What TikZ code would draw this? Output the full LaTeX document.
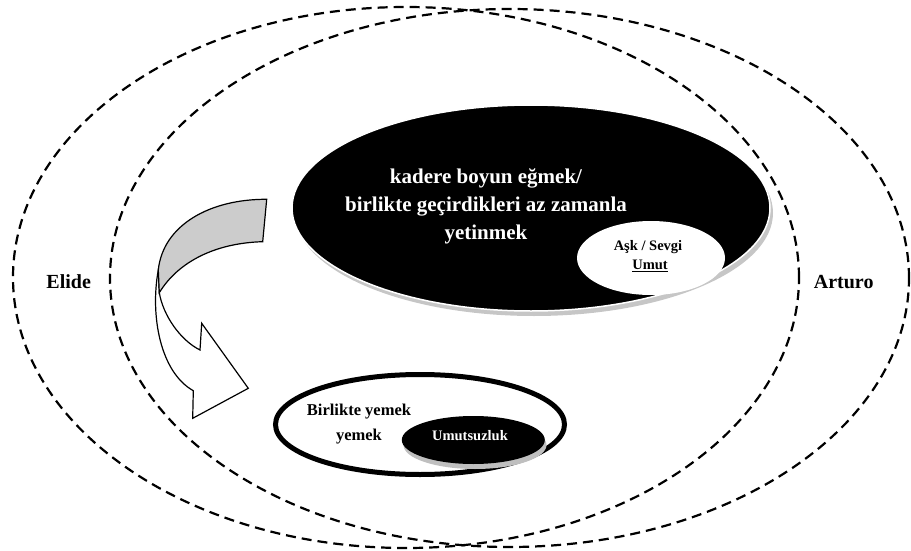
\documentclass[tikz,border=0pt]{standalone}
\usepackage{fontspec}
\setmainfont{Liberation Serif}
\usetikzlibrary{shapes.geometric}
\begin{document}
\begin{tikzpicture}[x=1pt,y=-1pt,
  dashell/.style={ellipse, draw=black, dash pattern=on 10pt off 6pt, line width=2.2pt, inner sep=0pt, outer sep=0pt},
  plainell/.style={ellipse, inner sep=0pt, outer sep=0pt},
  bigtxt/.style={anchor=base, inner sep=0pt, text=white, font=\fontsize{21}{25}\selectfont\bfseries},
  nametxt/.style={anchor=base, inner sep=0pt, font=\fontsize{20}{24}\selectfont\bfseries},
  midtxt/.style={anchor=base, inner sep=0pt, font=\fontsize{16.5}{20}\selectfont\bfseries},
  smalltxt/.style={anchor=base, inner sep=0pt, font=\fontsize{14.5}{17}\selectfont\bfseries},
  arrowline/.style={draw=black, line width=1.2pt, line join=miter}
]
\useasboundingbox (0,0) rectangle (911,551);

% black ellipse with shadow
\node[plainell, fill=gray!45, minimum width=478pt, minimum height=206pt] (bigshadow) at (534,213) {};
\node[plainell, fill=black, draw=white, line width=1.5pt, minimum width=478pt, minimum height=206pt] (big) at (531,208) {};
\node[plainell, fill=white, minimum width=148pt, minimum height=74pt] (love) at (651,258) {};

\node[bigtxt] (l1) at (486,183.3) {kadere boyun eğmek/};
\node[bigtxt] (l2) at (486,211.7) {birlikte geçirdikleri az zamanla};
\node[bigtxt] (l3) at (486,239.3) {yetinmek};

\node[smalltxt] (ask) at (648,250) {Aşk / Sevgi};
\node[smalltxt] (umut) at (650,269) {Umut};
\draw[line width=1.1pt] ([yshift=-2.6pt]umut.base west) -- ([yshift=-2.6pt]umut.base east);

% bottom ellipse
\node[plainell, draw=black, line width=5pt, fill=white, minimum width=289pt, minimum height=100pt] (meal) at (420,424.5) {};
\node[plainell, fill=gray!50, minimum width=143pt, minimum height=48pt] (despshadow) at (475,445) {};
\node[plainell, fill=black, minimum width=143pt, minimum height=48pt] (desp) at (473.3,440) {};
\node[midtxt] (b1) at (359,415) {Birlikte yemek};
\node[midtxt] (b2) at (359,440) {yemek};
\node[smalltxt, text=white] (ums) at (470,440) {Umutsuzluk};

% curved arrow
\coordinate (A) at (266.7,199.3);
\coordinate (B) at (262.7,241.7);
\coordinate (C) at (158.3,270);
\coordinate (D) at (159.3,292.7);
\coordinate (F) at (193.3,390.7);
\coordinate (G) at (192.7,418.3);
\coordinate (H) at (248.3,388.3);
\coordinate (I) at (201.7,323.3);
\coordinate (J) at (200,350);
\path[arrowline, fill=white] (C) .. controls (150,315) and (160,372) .. (F) -- (G) -- (H) -- (I) -- (J)
  .. controls (180,340) and (163,315) .. (D) -- cycle;
\path[arrowline, fill=gray!40] (A) .. controls (210,199) and (163,225) .. (C) -- (D)
  .. controls (178,262) and (215,243) .. (B) -- cycle;

% dashed ellipses
\node[dashell, minimum width=786pt, minimum height=541pt] (elide) at (406,277.5) {};
\node[dashell, minimum width=799pt, minimum height=538pt] (arturo) at (509.5,278) {};

\node[nametxt] (elidetxt) at (68.7,288) {Elide};
\node[nametxt] (arturotxt) at (843.7,288) {Arturo};
\end{tikzpicture}
\end{document}
